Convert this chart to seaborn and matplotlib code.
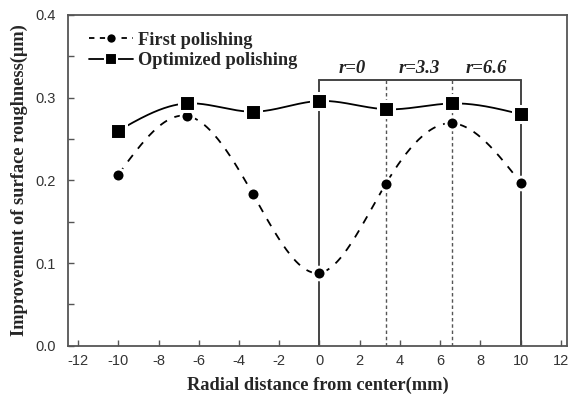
import numpy as np
import pandas as pd
import matplotlib
matplotlib.use("Agg")
import matplotlib.pyplot as plt
from matplotlib.lines import Line2D
from matplotlib.ticker import MultipleLocator
import seaborn as sns

# Radial measurement positions (mm) and roughness improvement (um)
radius = [-10, -6.6, -3.3, 0, 3.3, 6.6, 10]
first_polishing = [0.207, 0.278, 0.183, 0.088, 0.196, 0.269, 0.197]
optimized_polishing = [0.260, 0.293, 0.283, 0.296, 0.286, 0.293, 0.280]

# Polishing zones marked on the right half
zone_edges = [0, 3.3, 6.6, 10]
zone_labels = ["r=0", "r=3.3", "r=6.6"]
zone_top = 0.321

x_ticks = list(range(-12, 13, 2))
y_ticks = [0.0, 0.1, 0.2, 0.3, 0.4]


def natural_spline(x, y, n=300):
    """Smooth natural cubic spline through the measured points."""
    x = np.asarray(x, float)
    y = np.asarray(y, float)
    k = len(x)
    h = np.diff(x)
    A = np.zeros((k, k))
    b = np.zeros(k)
    A[0, 0] = A[-1, -1] = 1.0
    for i in range(1, k - 1):
        A[i, i - 1] = h[i - 1]
        A[i, i] = 2 * (h[i - 1] + h[i])
        A[i, i + 1] = h[i]
        b[i] = 6 * ((y[i + 1] - y[i]) / h[i] - (y[i] - y[i - 1]) / h[i - 1])
    m = np.linalg.solve(A, b)
    xs = np.linspace(x[0], x[-1], n)
    idx = np.clip(np.searchsorted(x, xs) - 1, 0, k - 2)
    x0, x1 = x[idx], x[idx + 1]
    y0, y1 = y[idx], y[idx + 1]
    m0, m1 = m[idx], m[idx + 1]
    hh = x1 - x0
    t0 = x1 - xs
    t1 = xs - x0
    ys = (m0 * t0 ** 3 + m1 * t1 ** 3) / (6 * hh) \
        + (y0 / hh - m0 * hh / 6) * t0 + (y1 / hh - m1 * hh / 6) * t1
    return xs, ys


sns.set_style("ticks")
plt.rcParams["font.family"] = ["Liberation Sans", "DejaVu Sans"]
plt.rcParams["xtick.direction"] = "in"
plt.rcParams["ytick.direction"] = "in"

fig = plt.figure(figsize=(5.71, 3.94), dpi=100)
ax = fig.add_axes([0.119, 0.1226, 0.874, 0.8394])

spine_col = "#555555"
serif = ["Liberation Serif", "DejaVu Serif"]

# Zone box and dividers
for xe in (zone_edges[0], zone_edges[-1]):
    ax.plot([xe, xe], [0, zone_top], color="#444444", lw=1.4, zorder=1)
ax.plot([zone_edges[0], zone_edges[-1]], [zone_top, zone_top],
        color="#444444", lw=1.4, zorder=1)
for xe in zone_edges[1:-1]:
    ax.plot([xe, xe], [0, zone_top], color="#555555", lw=1.0,
            ls=(0, (2.5, 2)), zorder=1)
for i, lab in enumerate(zone_labels):
    xc = (zone_edges[i] + zone_edges[i + 1]) / 2
    ax.text(xc, zone_top + 0.004, lab, ha="center", va="bottom",
            fontsize=13.5, fontweight="bold", fontstyle="italic",
            family=serif, color="#222222")

# Smooth curves through the measurements
xs, ys1 = natural_spline(radius, first_polishing)
_, ys2 = natural_spline(radius, optimized_polishing)
curves = pd.DataFrame({"x": np.concatenate([xs, xs]),
                       "y": np.concatenate([ys1, ys2]),
                       "series": ["First polishing"] * len(xs)
                       + ["Optimized polishing"] * len(xs)})
sns.lineplot(data=curves[curves.series == "First polishing"], x="x", y="y",
             ax=ax, color="black", lw=1.3, legend=False,
             sort=False, estimator=None)
ax.lines[-1].set_dashes((4.5, 4.5))
sns.lineplot(data=curves[curves.series == "Optimized polishing"], x="x", y="y",
             ax=ax, color="black", lw=1.3, legend=False, sort=False,
             estimator=None)

# Measured points, with a white rim leaving small gaps in the curves
pts = pd.DataFrame({"x": radius, "first": first_polishing,
                    "opt": optimized_polishing})
sns.scatterplot(data=pts, x="x", y="first", ax=ax, marker="o", s=85,
                color="black", edgecolor="white", linewidth=2.0, zorder=5)
sns.scatterplot(data=pts, x="x", y="opt", ax=ax, marker="s", s=120,
                color="black", edgecolor="white", linewidth=2.2, zorder=5)

ax.set_xlim(-12.5, 12.3)
ax.set_ylim(0, 0.4)
ax.set_xticks(x_ticks)
ax.set_xticklabels([str(v) for v in x_ticks])
ax.set_yticks(y_ticks)
ax.set_yticklabels([f"{v:.1f}" for v in y_ticks])
ax.yaxis.set_minor_locator(MultipleLocator(0.05))
ax.tick_params(axis="both", which="both", length=4, width=1.0,
               color=spine_col, labelsize=10.5, labelcolor="#333333")
ax.tick_params(axis="x", pad=6)
ax.tick_params(axis="y", pad=9)
for sp in ax.spines.values():
    sp.set_visible(True)
    sp.set_color(spine_col)
    sp.set_linewidth(1.3)

ax.set_xlabel("Radial distance from center(mm)", fontsize=13.2,
              fontweight="bold", family=serif, labelpad=6)
ax.set_ylabel("Improvement of surface roughness(\u03bcm)", fontsize=13.2,
              fontweight="bold", family=serif, labelpad=5)

handles = [
    Line2D([], [], color="black", lw=1.3, ls=(0, (3, 3)), marker="o",
           markersize=7.5, markeredgecolor="white", markeredgewidth=1.5),
    Line2D([], [], color="black", lw=1.3, marker="s", markersize=9,
           markeredgecolor="white", markeredgewidth=1.5),
]
ax.legend(handles, ["First polishing", "Optimized polishing"],
          loc="upper left", bbox_to_anchor=(0.009, 0.999), frameon=False,
          handlelength=2.4, handletextpad=0.3, labelspacing=0.2,
          prop={"family": serif, "weight": "bold", "size": 13.2})

fig.savefig("out.png", dpi=100)
